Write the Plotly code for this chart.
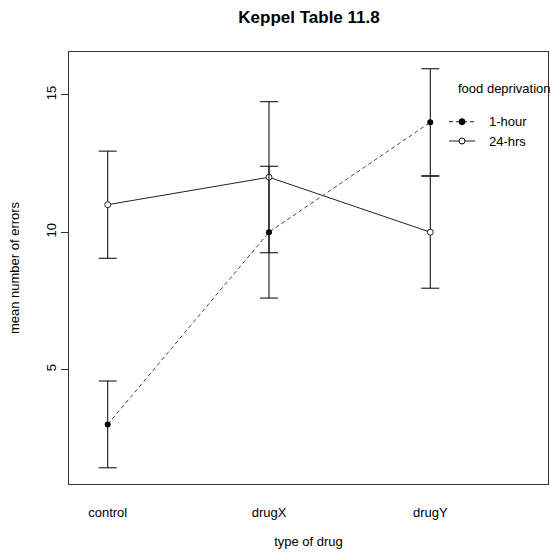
import plotly.graph_objects as go

drugs = ["control", "drugX", "drugY"]
xpos = [1, 2, 3]
hour1_mean = [3, 10, 14]
hour1_err = [1.58, 2.4, 1.95]
hrs24_mean = [11, 12, 10]
hrs24_err = [1.95, 2.75, 2.04]
y_ticks = [5, 10, 15]

W, H = 553, 552
L, R, T, B = 69, 5, 52, 68
PW, PH = W - L - R, H - T - B

def px(x):
    return (x - L) / PW

def py(y):
    return (H - B - y) / PH

fig = go.Figure()

fig.add_trace(go.Scatter(
    x=xpos, y=hrs24_mean, mode="lines+markers",
    line=dict(color="#222", width=1),
    marker=dict(symbol="circle", size=6, color="white", line=dict(color="#222", width=1)),
    error_y=dict(type="data", array=hrs24_err, color="black", thickness=1, width=9),
    showlegend=False,
))
fig.add_trace(go.Scatter(
    x=xpos, y=hour1_mean, mode="lines+markers",
    line=dict(color="#444", width=1, dash="4px,3px"),
    marker=dict(symbol="circle", size=6, color="black"),
    error_y=dict(type="data", array=hour1_err, color="black", thickness=1, width=9),
    showlegend=False,
))

shapes = []
annotations = []
# legend
annotations.append(dict(text="food deprivation", xref="paper", yref="paper",
                        x=px(456), y=py(88), xanchor="left", yanchor="middle",
                        showarrow=False, font=dict(size=13, color="black")))
for label, yy, dash, fill in [("1-hour", 121.7, "4px,3px", "black"), ("24-hrs", 141, "solid", "white")]:
    shapes.append(dict(type="line", xref="paper", yref="paper",
                       x0=px(449), x1=px(475), y0=py(yy), y1=py(yy),
                       line=dict(color="#222", width=1, dash=dash)))
    shapes.append(dict(type="circle", xref="paper", yref="paper",
                       xsizemode="pixel", ysizemode="pixel",
                       xanchor=px(462), yanchor=py(yy),
                       x0=-3, x1=3, y0=-3, y1=3,
                       fillcolor=fill, line=dict(color="black", width=1)))
    annotations.append(dict(text=label, xref="paper", yref="paper",
                            x=px(487), y=py(yy), xanchor="left", yanchor="middle",
                            showarrow=False, font=dict(size=13, color="black")))

fig.update_layout(
    width=W, height=H,
    margin=dict(l=L, r=R, t=T, b=B),
    paper_bgcolor="white", plot_bgcolor="white",
    font=dict(family="Liberation Sans, Arial, sans-serif", size=13, color="black"),
    title=dict(text="<b>Keppel Table 11.8</b>", x=309 / W, xanchor="center",
               y=1 - 17 / H, yanchor="middle", yref="container",
               font=dict(size=17, color="black")),
    xaxis=dict(range=[0.76, 3.73], tickvals=xpos, ticktext=drugs, ticks="",
               showgrid=False, zeroline=False, showline=True, linecolor="#333",
               linewidth=1, mirror=True, ticklabelstandoff=16,
               tickfont=dict(size=13),
               title=dict(text="type of drug", standoff=18, font=dict(size=13))),
    yaxis=dict(range=[0.83, 16.56], tickvals=y_ticks, ticks="outside", ticklen=7,
               tickcolor="#333", tickangle=-90, showgrid=False, zeroline=False,
               showline=True, linecolor="#333", linewidth=1, mirror=True,
               ticklabelstandoff=0, tickfont=dict(size=13),
               title=dict(text="mean number of errors", standoff=21, font=dict(size=13))),
    shapes=shapes, annotations=annotations,
)

fig.write_html("out.html")
